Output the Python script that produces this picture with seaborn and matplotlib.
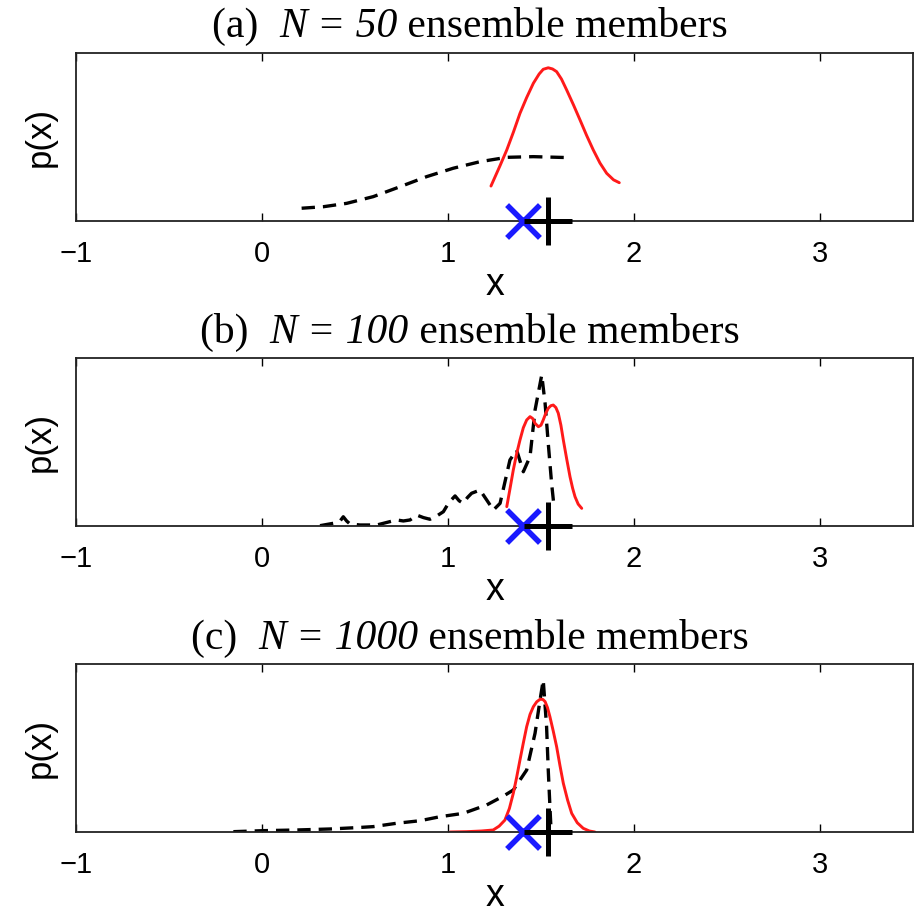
import numpy as np
import pandas as pd
import matplotlib
matplotlib.use("Agg")
import matplotlib.pyplot as plt
import seaborn as sns

# ---------------- data ----------------
panel_tags = ["(a)", "(b)", "(c)"]
ensemble_sizes = ["50", "100", "1000"]

# red solid curves (x, relative density)
red_a_x = [1.231, 1.280, 1.316, 1.352, 1.387, 1.423, 1.459, 1.490, 1.512, 1.539,
           1.562, 1.584, 1.610, 1.638, 1.675, 1.710, 1.745, 1.781, 1.817, 1.853, 1.890, 1.921]
red_a_y = [0.208, 0.330, 0.423, 0.530, 0.641, 0.735, 0.820, 0.875, 0.903, 0.912,
           0.905, 0.889, 0.845, 0.780, 0.690, 0.601, 0.510, 0.423, 0.345, 0.284, 0.245, 0.228]

red_b_x = [1.316, 1.333, 1.351, 1.369, 1.387, 1.405, 1.423, 1.441, 1.455, 1.468, 1.486,
           1.500, 1.512, 1.526, 1.539, 1.553, 1.566, 1.580, 1.593, 1.607, 1.620, 1.638,
           1.656, 1.670, 1.683, 1.700, 1.719]
red_b_y = [0.115, 0.220, 0.333, 0.430, 0.512, 0.585, 0.631, 0.651, 0.640, 0.611, 0.591,
           0.600, 0.631, 0.672, 0.701, 0.716, 0.720, 0.705, 0.671, 0.600, 0.512, 0.400,
           0.293, 0.225, 0.174, 0.130, 0.105]

red_c_x = [1.011, 1.100, 1.180, 1.243, 1.275, 1.306, 1.330, 1.351, 1.369, 1.387, 1.405,
           1.423, 1.441, 1.459, 1.477, 1.495, 1.510, 1.522, 1.535, 1.548, 1.566, 1.584,
           1.602, 1.620, 1.643, 1.665, 1.695, 1.727, 1.760, 1.790]
red_c_y = [0.000, 0.002, 0.006, 0.012, 0.035, 0.071, 0.140, 0.230, 0.325, 0.429, 0.530,
           0.627, 0.700, 0.746, 0.775, 0.790, 0.789, 0.776, 0.740, 0.686, 0.600, 0.508,
           0.395, 0.290, 0.190, 0.111, 0.055, 0.022, 0.006, 0.000]

# black dashed curves (x, relative density)
ens_a_x = [0.213, 0.330, 0.455, 0.598, 0.742, 0.885, 1.028, 1.172, 1.316, 1.459, 1.661]
ens_a_y = [0.076, 0.085, 0.105, 0.145, 0.204, 0.264, 0.314, 0.353, 0.379, 0.383, 0.377]

ens_b_x = [0.312, 0.383, 0.420, 0.437, 0.455, 0.473, 0.527, 0.617, 0.688, 0.724, 0.760,
           0.796, 0.832, 0.868, 0.903, 0.940, 0.975, 1.005, 1.038, 1.060, 1.082, 1.105,
           1.127, 1.172, 1.208, 1.244, 1.280, 1.333, 1.369, 1.405, 1.441, 1.468, 1.504,
           1.522, 1.539, 1.557, 1.570]
ens_b_y = [0.002, 0.016, 0.030, 0.055, 0.030, 0.012, 0.006, 0.006, 0.026, 0.036, 0.030,
           0.036, 0.065, 0.050, 0.040, 0.060, 0.085, 0.140, 0.179, 0.150, 0.135, 0.170,
           0.195, 0.214, 0.155, 0.095, 0.135, 0.393, 0.452, 0.323, 0.413, 0.690, 0.899,
           0.730, 0.492, 0.254, 0.115]

ens_c_x = [-0.154, 0.007, 0.187, 0.366, 0.509, 0.598, 0.724, 0.849, 0.957, 1.082, 1.208,
           1.300, 1.351, 1.423, 1.468, 1.495, 1.512, 1.530, 1.539, 1.548, 1.554]
ens_c_y = [0.002, 0.008, 0.012, 0.018, 0.026, 0.032, 0.052, 0.067, 0.091, 0.111, 0.161,
           0.215, 0.250, 0.369, 0.588, 0.786, 0.905, 0.627, 0.369, 0.151, 0.012]

red_curves = [(red_a_x, red_a_y), (red_b_x, red_b_y), (red_c_x, red_c_y)]
ens_curves = [(ens_a_x, ens_a_y), (ens_b_x, ens_b_y), (ens_c_x, ens_c_y)]

obs_x = [1.403]     # blue cross
truth_x = [1.540]   # black plus

xticks = [-1, 0, 1, 2, 3]
xtick_labels = ["\u22121", "0", "1", "2", "3"]
x_limits = (-1, 3.5)

# ---------------- style ----------------
sns.set_theme(style="white")
plt.rcParams["font.family"] = ["Liberation Sans", "DejaVu Sans"]

W, H = 917, 914
fig = plt.figure(figsize=(W / 100, H / 100), dpi=100)
fig.patch.set_facecolor("white")
renderer = fig.canvas.get_renderer()

ax_left, ax_right = 76, 913
ax_tops = [53, 358, 664]
ax_h = 168
title_baselines = [37, 343, 649]
title_cx = 470
serif = ["Liberation Serif", "DejaVu Serif"]
title_size = 30

for i in range(3):
    top = ax_tops[i]
    ax = fig.add_axes([ax_left / W, 1 - (top + ax_h) / H,
                       (ax_right - ax_left) / W, ax_h / H])
    ax.set_facecolor("white")

    ex, ey = ens_curves[i]
    rx, ry = red_curves[i]
    sns.lineplot(x=ex, y=ey, ax=ax, color="black", linewidth=2.4,
                 linestyle=(0, (4.0, 2.4)), sort=False, estimator=None)
    sns.lineplot(x=rx, y=ry, ax=ax, color="#ff1a1a", linewidth=2.1,
                 sort=False, estimator=None)

    sns.scatterplot(x=obs_x, y=[0], ax=ax, marker="x", s=560, color="#1a1aff",
                    linewidth=4, clip_on=False, zorder=5)
    sns.scatterplot(x=truth_x, y=[0], ax=ax, marker="+", s=1150, color="black",
                    linewidth=3.6, clip_on=False, zorder=6)

    ax.set_xlim(*x_limits)
    ax.set_ylim(0, 1)
    ax.set_xticks(xticks)
    ax.set_xticklabels(xtick_labels)
    ax.set_yticks([])
    ax.tick_params(axis="x", direction="in", length=6, width=1.0, color="black",
                   top=True, bottom=True, labelsize=21, pad=14, labelcolor="black")
    for sp in ax.spines.values():
        sp.set_visible(True)
        sp.set_color("#222222")
        sp.set_linewidth(1.3)
    ax.set_xlabel("x", fontsize=27, labelpad=-1, color="black")
    ax.set_ylabel("p(x)", fontsize=25, labelpad=14, color="black")

    # title built from upright / italic / upright pieces, centred as a whole
    pieces = [(panel_tags[i] + "  ", "normal"),
              ("N = " + ensemble_sizes[i], "italic"),
              (" ensemble members", "normal")]
    y_fig = 1 - title_baselines[i] / H
    texts = []
    widths = []
    for s, st in pieces:
        t = fig.text(0, y_fig, s, ha="left", va="baseline", fontsize=title_size,
                     family=serif, fontstyle=st, color="black")
        bb = t.get_window_extent(renderer=renderer)
        texts.append(t)
        widths.append(bb.width)
    total = sum(widths)
    x0 = title_cx - total / 2
    for t, w in zip(texts, widths):
        t.set_x(x0 / W)
        x0 += w

fig.savefig("out.png", dpi=100, facecolor="white")
